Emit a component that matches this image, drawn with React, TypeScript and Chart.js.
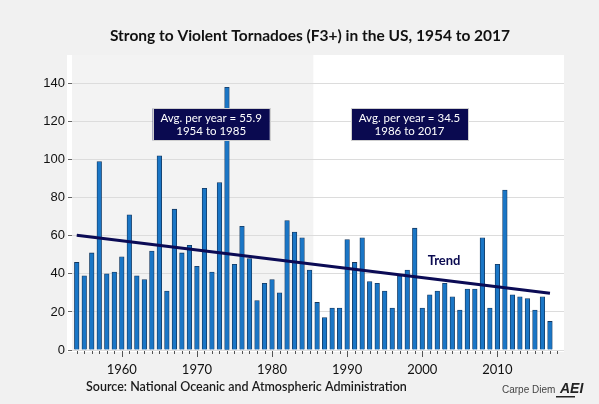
import React, { useEffect, useRef } from "react";
import { Chart, registerables } from "chart.js";

Chart.register(...registerables);

const years: number[] = [
  1954, 1955, 1956, 1957, 1958, 1959, 1960, 1961, 1962, 1963, 1964, 1965, 1966, 1967, 1968, 1969,
  1970, 1971, 1972, 1973, 1974, 1975, 1976, 1977, 1978, 1979, 1980, 1981, 1982, 1983, 1984, 1985,
  1986, 1987, 1988, 1989, 1990, 1991, 1992, 1993, 1994, 1995, 1996, 1997, 1998, 1999, 2000, 2001,
  2002, 2003, 2004, 2005, 2006, 2007, 2008, 2009, 2010, 2011, 2012, 2013, 2014, 2015, 2016, 2017,
];
const tornadoes: number[] = [
  46, 39, 51, 99, 40, 41, 49, 71, 39, 37, 52, 102, 31, 74, 51, 55,
  44, 85, 41, 88, 138, 45, 65, 48, 26, 35, 37, 30, 68, 62, 59, 42,
  25, 17, 22, 22, 58, 46, 59, 36, 35, 31, 22, 39, 42, 64, 22, 29,
  31, 35, 28, 21, 32, 32, 59, 22, 45, 84, 29, 28, 27, 21, 28, 15,
];
const trendYears: number[] = [1954, 2017];
const trendValues: number[] = [60.3, 29.8];
const xTickLabels: number[] = [1960, 1970, 1980, 1990, 2000, 2010];
const yTickLabels: number[] = [0, 20, 40, 60, 80, 100, 120, 140];
const periodSplit = 1985.5;
const avgBoxes = [
  { year: 1971.9, value: 118.5, lines: ["Avg. per year = 55.9", "1954 to 1985"] },
  { year: 1998.3, value: 118.5, lines: ["Avg. per year = 34.5", "1986 to 2017"] },
];
const trendLabel = { year: 2002.9, value: 46.7, text: "Trend" };

const TITLE = "Strong to Violent Tornadoes (F3+) in the US, 1954 to 2017";
const SOURCE = "Source: National Oceanic and Atmospheric Administration";

document.body.style.margin = "0";

const decorPlugin = {
  id: "decor",
  beforeDraw(chart: any) {
    const { ctx, chartArea, scales } = chart;
    const x = scales.x;
    ctx.save();
    ctx.fillStyle = "#f1f1f1";
    ctx.fillRect(0, 0, chart.width, chart.height);
    ctx.fillStyle = "#ffffff";
    ctx.fillRect(chartArea.left - 5, chartArea.top, chartArea.right - chartArea.left + 5, chartArea.bottom - chartArea.top + 2);
    ctx.fillStyle = "#f3f3f3";
    const sx = x.getPixelForValue(periodSplit);
    ctx.fillRect(chartArea.left, chartArea.top, sx - chartArea.left, chartArea.bottom - chartArea.top);
    ctx.restore();
  },
  afterDraw(chart: any) {
    const { ctx, chartArea, scales } = chart;
    const x = scales.x;
    const y = scales.y;
    ctx.save();
    // x-axis minor/major ticks
    ctx.strokeStyle = "#555";
    ctx.lineWidth = 1;
    for (let yr = 1954; yr <= 2018; yr++) {
      const px = Math.round(x.getPixelForValue(yr)) + 0.5;
      const len = yr % 10 === 0 ? 6 : 3;
      ctx.beginPath();
      ctx.moveTo(px, chartArea.bottom + 1);
      ctx.lineTo(px, chartArea.bottom + 1 + len);
      ctx.stroke();
    }
    // title
    ctx.fillStyle = "#111";
    ctx.font = "bold 15.5px Lato";
    ctx.textAlign = "center";
    ctx.textBaseline = "middle";
    ctx.fillText(TITLE, 310, 36);
    // source
    ctx.font = "600 12.5px Lato";
    ctx.textAlign = "left";
    ctx.fillStyle = "#1a1a1a";
    ctx.fillText(SOURCE, 86, 387);
    // Carpe Diem
    ctx.font = "10px 'Liberation Sans'";
    ctx.fillStyle = "#444";
    ctx.fillText("Carpe Diem", 502, 390);
    ctx.font = "italic bold 14px 'Liberation Sans'";
    ctx.fillStyle = "#222";
    ctx.fillText("AEI", 560, 389);
    ctx.fillRect(556, 396, 19, 1.5);
    // average boxes
    for (const b of avgBoxes) {
      const cx = x.getPixelForValue(b.year);
      const cy = y.getPixelForValue(b.value);
      const w = 117;
      const h = 32;
      ctx.fillStyle = "#0a0a50";
      ctx.fillRect(cx - w / 2, cy - h / 2, w, h);
      ctx.strokeStyle = "#cfcfcf";
      ctx.lineWidth = 1;
      ctx.strokeRect(Math.round(cx - w / 2) + 0.5, Math.round(cy - h / 2) + 0.5, w, h);
      ctx.fillStyle = "#ffffff";
      ctx.font = "11.5px Lato";
      ctx.textAlign = "center";
      ctx.textBaseline = "middle";
      ctx.fillText(b.lines[0], cx, cy - 6.5);
      ctx.fillText(b.lines[1], cx, cy + 6.5);
    }
    // trend label
    ctx.fillStyle = "#0a0a50";
    ctx.font = "bold 13px Lato";
    ctx.textAlign = "center";
    ctx.fillText(trendLabel.text, x.getPixelForValue(trendLabel.year), y.getPixelForValue(trendLabel.value));
    ctx.restore();
  },
};

export default function App() {
  const ref = useRef<HTMLCanvasElement>(null);
  useEffect(() => {
    if (!ref.current) return;
    const chart = new Chart(ref.current, {
      type: "bar",
      data: {
        datasets: [
          {
            type: "line",
            label: "Trend",
            data: trendYears.map((yr, i) => ({ x: yr, y: trendValues[i] })),
            borderColor: "#0b0b55",
            borderWidth: 3,
            pointRadius: 0,
            order: 0,
          } as any,
          {
            type: "bar",
            label: "F3+ tornadoes",
            data: years.map((yr, i) => ({ x: yr, y: tornadoes[i] })),
            backgroundColor: "#1a76c6",
            borderColor: "#14375e",
            borderWidth: 0.8,
            barThickness: 4.6,
            order: 1,
          } as any,
        ],
      },
      options: {
        animation: false,
        responsive: false,
        layout: { padding: { left: 0, right: 35, top: 55, bottom: 0 } },
        plugins: {
          legend: { display: false },
          tooltip: { enabled: false },
          title: { display: false },
        },
        scales: {
          x: {
            type: "linear",
            min: 1953.37,
            max: 2018.87,
            offset: false,
            afterFit: (s: any) => {
              s.height = 54;
            },
            afterBuildTicks: (s: any) => {
              s.ticks = xTickLabels.map((v) => ({ value: v }));
            },
            grid: { display: false, drawTicks: false },
            border: { display: false },
            ticks: {
              padding: 12,
              color: "#111",
              font: { family: "Lato", size: 13 },
              callback: (v: any) => String(v),
              maxRotation: 0,
              autoSkip: false,
            },
          },
          y: {
            min: 0,
            max: 155,
            afterFit: (s: any) => {
              s.width = 72;
            },
            afterBuildTicks: (s: any) => {
              s.ticks = yTickLabels.map((v) => ({ value: v }));
            },
            grid: { color: "#dcdcdc", lineWidth: 1, tickLength: 4, tickColor: "#666" },
            border: { display: false },
            ticks: {
              padding: 3,
              color: "#111",
              font: { family: "Liberation Sans", size: 13 },
            },
          },
        },
      },
      plugins: [decorPlugin],
    });
    return () => chart.destroy();
  }, []);
  return <canvas ref={ref} width={599} height={404} style={{ display: "block" }} />;
}
